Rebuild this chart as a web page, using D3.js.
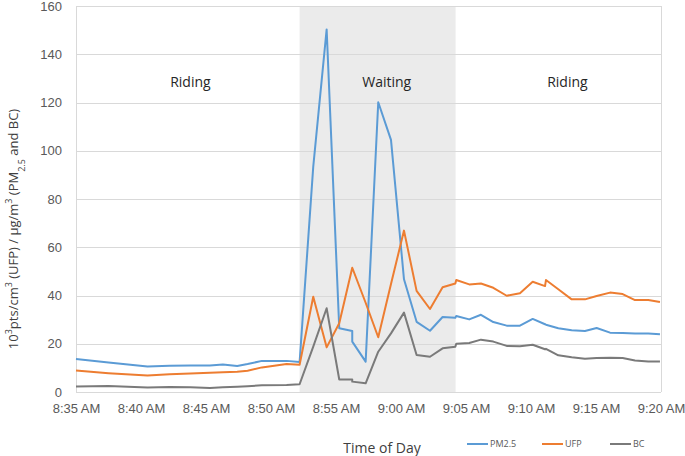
<!DOCTYPE html>
<html lang="en">
<head>
<meta charset="utf-8">
<title>Exposure by time of day</title>
<style>
    body { margin: 0; background: #fff; }
    svg { font-family: "Open Sans", sans-serif; }
    .grid line { stroke: #d9d9d9; stroke-width: 1; }
    .axis text { fill: #595959; font-size: 13px; }
    .series { fill: none; stroke-width: 2; stroke-linejoin: round; }
</style>
</head>
<body>
<svg id="chart" width="685" height="456"></svg>
<script src="https://cdn.jsdelivr.net/npm/d3@7"></script>
<script>
// minutes after 8:35 AM for each sample
var minutes = [0, 2.5, 5.5, 7.2, 8.8, 10.3, 11.3, 12.4, 13.2, 14.3, 16.2, 17.2,
    18.25, 19.28, 20.25, 21.25, 21.25, 22.28, 23.25, 24.23, 25.23, 26.2, 27.23, 28.2, 29.18, 29.25,
    30.25, 31.15, 32.1, 33.13, 34.15, 35.13, 36.08, 36.15, 37.1, 38.13, 39.15, 40.05, 41.08, 42.05, 43.0, 44.02, 44.92];

var pm25 = [13.7, 12.2, 10.6, 10.9, 11.0, 11.0, 11.4, 10.8, 11.6, 12.9, 12.9, 12.4,
    93.4, 150.3, 26.4, 25.3, 20.9, 12.6, 120.1, 104.5, 46.7, 29.1, 25.4, 31.1, 30.8, 31.5,
    30.1, 32.0, 29.0, 27.5, 27.5, 30.3, 28.1, 27.9, 26.4, 25.6, 25.3, 26.5, 24.6, 24.5, 24.2, 24.2, 23.9];

var ufp = [8.9, 7.8, 6.8, 7.4, 7.7, 8.0, 8.2, 8.4, 8.8, 10.2, 11.6, 11.3,
    39.5, 18.5, 28.5, 51.5, 51.5, 37.0, 22.7, 44.8, 66.9, 41.9, 34.4, 43.4, 45.0, 46.4,
    44.6, 45.0, 43.2, 39.9, 40.9, 45.7, 43.9, 46.4, 42.6, 38.4, 38.4, 39.8, 41.2, 40.6, 38.1, 38.1, 37.3];

var bc = [2.3, 2.5, 1.9, 2.1, 2.0, 1.7, 2.0, 2.2, 2.4, 2.8, 2.9, 3.2,
    18.8, 34.7, 5.2, 5.2, 4.3, 3.6, 16.7, 24.3, 32.9, 15.3, 14.6, 18.1, 18.8, 20.0,
    20.3, 21.7, 20.9, 19.1, 19.0, 19.6, 17.7, 17.9, 15.2, 14.4, 13.8, 14.1, 14.2, 14.1, 13.1, 12.6, 12.6];

var xTickLabels = ["8:35 AM", "8:40 AM", "8:45 AM", "8:50 AM", "8:55 AM", "9:00 AM", "9:05 AM", "9:10 AM", "9:15 AM", "9:20 AM"];
var yTicks = [0, 20, 40, 60, 80, 100, 120, 140, 160];

// phases of the trip (minutes after 8:35), labelAt = where the text sits
var phaseNames = ["Riding", "Waiting", "Riding"];
var phaseStart = [0, 17.2, 29.2];
var phaseEnd = [17.2, 29.2, 45];
var phaseLabelAt = [8.8, 23.9, 37.8];

var seriesNames = ["PM2.5", "UFP", "BC"];
var seriesColors = ["#5b9bd5", "#ed7d31", "#7a7a7a"];

var svg = d3.select('#chart'),
    plot = {left: 76, right: 661, top: 6, bottom: 392};

var x = d3.scaleLinear().domain([0, 45]).range([plot.left, plot.right]),
    y = d3.scaleLinear().domain([0, 160]).range([plot.bottom, plot.top]);

// shaded waiting band
svg.append('rect')
    .attr('x', x(phaseStart[1]))
    .attr('y', plot.top)
    .attr('width', x(phaseEnd[1]) - x(phaseStart[1]))
    .attr('height', plot.bottom - plot.top)
    .attr('fill', '#ebebeb');

// horizontal grid
svg.append('g').attr('class', 'grid')
  .selectAll('line').data(yTicks).enter().append('line')
    .attr('x1', plot.left).attr('x2', plot.right)
    .attr('y1', function(d) { return Math.round(y(d)) + 0.5; })
    .attr('y2', function(d) { return Math.round(y(d)) + 0.5; });

// frame sides
svg.append('g').attr('class', 'grid')
  .selectAll('line').data([plot.left, plot.right]).enter().append('line')
    .attr('x1', function(d) { return d + 0.5; }).attr('x2', function(d) { return d + 0.5; })
    .attr('y1', plot.top).attr('y2', plot.bottom);

// y axis
var yAxis = d3.axisLeft(y).tickValues(yTicks).tickSize(0).tickPadding(14);
svg.append('g').attr('class', 'axis')
    .attr('transform', 'translate(' + plot.left + ',0)')
    .call(yAxis)
    .call(function(g) { g.select('.domain').remove(); });

// x axis
var xAxis = d3.axisBottom(x)
    .tickValues(xTickLabels.map(function(d, i) { return i * 5; }))
    .tickFormat(function(d, i) { return xTickLabels[i]; })
    .tickSize(0).tickPadding(12);
svg.append('g').attr('class', 'axis')
    .attr('transform', 'translate(0,' + plot.bottom + ')')
    .call(xAxis)
    .call(function(g) { g.select('.domain').remove(); });

// series
var line = d3.line()
    .x(function(d) { return x(d[0]); })
    .y(function(d) { return y(d[1]); });

[pm25, ufp, bc].forEach(function(vals, k) {
    svg.append('path')
        .datum(minutes.map(function(m, i) { return [m, vals[i]]; }))
        .attr('class', 'series')
        .attr('stroke', seriesColors[k])
        .attr('d', line);
});

// phase labels
svg.append('g').selectAll('text').data(phaseNames).enter().append('text')
    .attr('x', function(d, i) { return x(phaseLabelAt[i]); })
    .attr('y', 87)
    .attr('text-anchor', 'middle')
    .attr('font-size', 14)
    .attr('fill', '#262626')
    .text(function(d) { return d; });

// axis titles
svg.append('text')
    .attr('x', 382).attr('y', 453)
    .attr('text-anchor', 'middle')
    .attr('font-size', 14)
    .attr('fill', '#404040')
    .text('Time of Day');

var yt = svg.append('text')
    .attr('transform', 'translate(18,229) rotate(-90)')
    .attr('text-anchor', 'middle')
    .attr('font-size', 13)
    .attr('fill', '#404040');
yt.append('tspan').text('10');
yt.append('tspan').attr('baseline-shift', 'super').attr('font-size', 9).text('3');
yt.append('tspan').text('pts/cm');
yt.append('tspan').attr('baseline-shift', 'super').attr('font-size', 9).text('3');
yt.append('tspan').text(' (UFP) / µg/m');
yt.append('tspan').attr('baseline-shift', 'super').attr('font-size', 9).text('3');
yt.append('tspan').text(' (PM');
yt.append('tspan').attr('baseline-shift', 'sub').attr('font-size', 9).text('2.5');
yt.append('tspan').text(' and BC)');

// legend
var legendX = [467, 542, 610];
var legend = svg.append('g').selectAll('g').data(seriesNames).enter().append('g')
    .attr('transform', function(d, i) { return 'translate(' + legendX[i] + ',444)'; });
legend.append('line')
    .attr('x1', 0).attr('x2', 21).attr('y1', 0).attr('y2', 0)
    .attr('stroke', function(d, i) { return seriesColors[i]; })
    .attr('stroke-width', 2);
legend.append('text')
    .attr('x', 23).attr('y', 3)
    .attr('font-size', 9)
    .attr('fill', '#595959')
    .text(function(d) { return d; });
</script>
</body>
</html>
